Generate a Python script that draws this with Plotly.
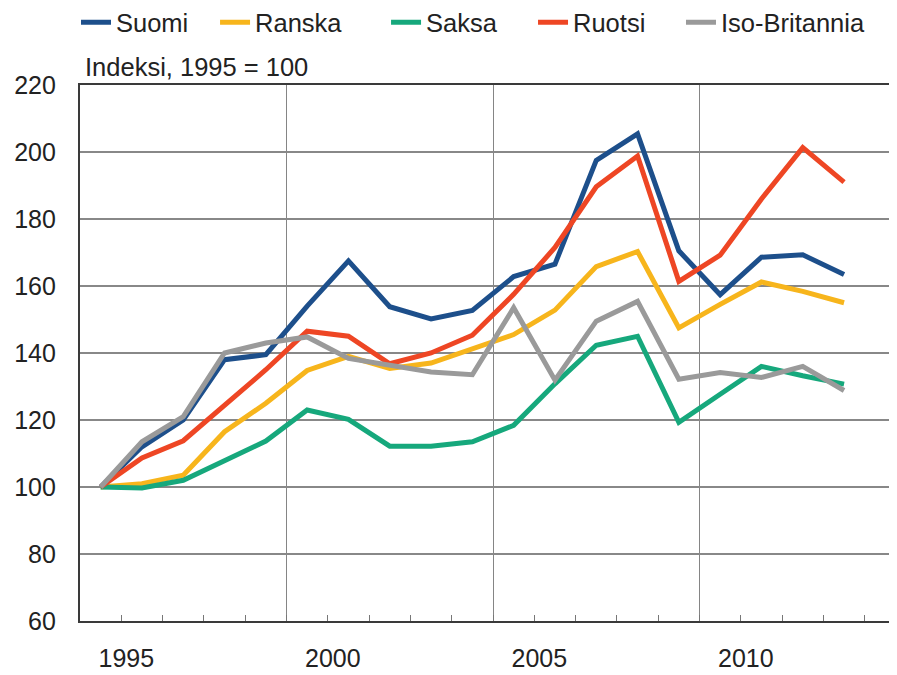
import plotly.graph_objects as go

years = list(range(1995, 2014))
suomi = [100, 112, 120, 138, 139.5, 154, 167.5, 153.8, 150.2, 152.7, 162.8, 166.5, 197.5, 205.4, 170.5, 157.4, 168.6, 169.3, 163.4]
ranska = [100, 101, 103.5, 116.5, 125, 134.8, 139, 135.4, 137, 141.4, 145.5, 152.8, 165.8, 170.3, 147.5, 154.5, 161.2, 158.4, 155]
saksa = [100, 99.7, 102, 107.8, 113.7, 123, 120.2, 112.2, 112.2, 113.5, 118.4, 130.8, 142.3, 145, 119.3, 127.7, 136, 133.2, 130.7]
ruotsi = [100, 108.7, 113.8, 124.5, 135, 146.5, 145, 136.8, 140, 145.3, 157.5, 171.5, 189.6, 198.8, 161.4, 169.2, 186, 201.3, 191]
iso_britannia = [100, 113.5, 121, 140, 143, 144.8, 138.4, 136.4, 134.3, 133.5, 153.5, 131.9, 149.5, 155.4, 132.2, 134.2, 132.7, 136, 128.8]

series_names = ["Suomi", "Ranska", "Saksa", "Ruotsi", "Iso-Britannia"]
series_values = [suomi, ranska, saksa, ruotsi, iso_britannia]
colors = ["#1d4f8b", "#f7b51c", "#16a87c", "#ee4624", "#9a9a9a"]

label_years = [1995, 2000, 2005, 2010]
subtitle = "Indeksi, 1995 = 100"

FONT = "Liberation Sans, Arial, sans-serif"

# legend entry positions (paper x) - one legend box per series
legend_x = [-0.0049, 0.1653, 0.3746, 0.5545, 0.7356]
legend_ids = ["legend", "legend2", "legend3", "legend4", "legend5"]

fig = go.Figure()
for name, vals, col, lid in zip(series_names, series_values, colors, legend_ids):
    fig.add_trace(go.Scatter(x=years, y=vals, mode="lines", name=name, legend=lid,
                             line=dict(color=col, width=5)))

# ticks on category boundaries; labels sit just after the boundary of their year
tickvals = [y + 0.5 for y in years]
ticktext = [str(y) if y in label_years else "" for y in years]

legend_layout = {}
for lid, lx in zip(legend_ids, legend_x):
    legend_layout[lid] = dict(orientation="h", x=lx, xanchor="left", y=1.16, yanchor="top",
                              font=dict(size=25.5, color="#222222"),
                              bgcolor="rgba(0,0,0,0)", itemwidth=30)

# the page body adds an 8px offset, so the figure is 8px smaller and margins shifted
fig.update_layout(
    width=889, height=667,
    margin=dict(l=72, r=0, t=77, b=54, autoexpand=False),
    plot_bgcolor="white", paper_bgcolor="white",
    font=dict(family=FONT, size=25, color="#222222"),
    showlegend=True,
    xaxis=dict(
        range=[years[0] - 0.5, years[0] - 0.5 + 817 / 41.3],
        tickmode="array", tickvals=tickvals, ticktext=ticktext,
        ticks="inside", ticklen=6, tickwidth=1.2, tickcolor="#777777",
        ticklabelshift=5, ticklabelstandoff=14,
        showgrid=False, zeroline=False,
        showline=True, linecolor="#3a3a3a", linewidth=2.2, mirror=True,
        tickfont=dict(size=25, color="#222222"),
        minor=dict(tick0=years[0] - 0.5, dtick=5, showgrid=True,
                   gridcolor="#858585", gridwidth=1.4, ticks=""),
    ),
    yaxis=dict(
        range=[60, 220], dtick=20, tick0=60,
        showgrid=True, gridcolor="#888888", gridwidth=1.7,
        zeroline=False, ticks="", ticklabelstandoff=17,
        showline=True, linecolor="#3a3a3a", linewidth=2.2,
        tickfont=dict(size=25, color="#222222"),
    ),
    **legend_layout,
)

fig.add_annotation(text=subtitle, xref="paper", yref="paper", x=0.004, y=1.0336,
                   xanchor="left", yanchor="middle", showarrow=False,
                   font=dict(size=25.5, color="#222222"))

fig.write_html("out.html")
